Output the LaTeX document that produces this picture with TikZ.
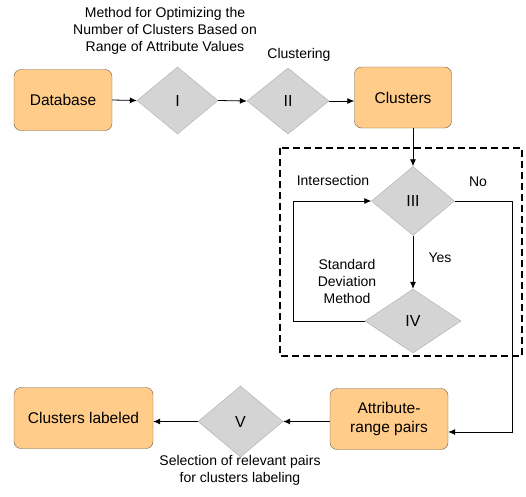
\documentclass[tikz,border=0pt]{standalone}
\usepackage{fontspec}
\setmainfont{Liberation Sans}
\usetikzlibrary{arrows.meta,shapes.geometric}
\definecolor{boxfill}{HTML}{FFCC8A}
\definecolor{boxline}{HTML}{6F5A42}
\definecolor{stepfill}{HTML}{D4D4D4}
\definecolor{stepline}{HTML}{ADADAD}
\newlength{\BoxHeight}
\setlength{\BoxHeight}{61pt}
\tikzset{
  data box/.style={draw=boxline, fill=boxfill, rounded corners=7pt, rectangle, minimum height=\BoxHeight, inner sep=2pt, align=center, font=\fontsize{15.5}{18.5}\selectfont},
  step node/.style={draw=stepline, fill=stepfill, diamond, inner sep=0pt, font=\fontsize{16}{18}\selectfont},
  note text/.style={draw=none, align=center, font=\fontsize{14}{17}\selectfont},
  flow/.style={draw, line width=0.8pt, -{Latex[length=7pt,width=6pt]}},
  group box/.style={draw, line width=1.2pt, dash pattern=on 7pt off 4pt}
}

\begin{document}
\begin{tikzpicture}[x=1pt, y=-1pt]
  \useasboundingbox (0,0) rectangle (526,496);

  % top row
  \node[data box, minimum width=98pt] (db) at (63,100) {Database};
  \node[step node, minimum width=81pt, minimum height=67pt] (s1) at (177.5,100.5) {I};
  \node[step node, minimum width=82pt, minimum height=66pt] (s2) at (288,101) {II};
  \node[data box, minimum width=97pt] (cl) at (403,97.5) {Clusters};

  \node[note text] (labmethod) at (165,31) {Method for Optimizing the\\Number of Clusters Based on\\Range of Attribute Values};
  \node[note text] (labclust) at (299,55) {Clustering};

  % dashed group
  \draw[group box] (280,148) rectangle (522,356);
  \node[step node, minimum width=83pt, minimum height=69pt] (s3) at (413,201) {III};
  \node[step node, minimum width=96pt, minimum height=64pt] (s4) at (413,321) {IV};

  \node[note text] (labinter) at (333,180) {Intersection};
  \node[note text] (labno) at (478,182) {No};
  \node[note text] (labyes) at (440,258) {Yes};
  \node[note text] (labsd) at (347,281) {Standard\\Deviation\\Method};

  % bottom row
  \node[data box, minimum width=118pt] (arp) at (389,419) {Attribute-\\range pairs};
  \node[step node, minimum width=85pt, minimum height=71pt] (s5) at (240.5,421.5) {V};
  \node[data box, minimum width=139pt] (lab) at (83.5,418) {Clusters labeled};

  \node[note text] (labsel) at (240,470) {Selection of relevant pairs\\for clusters labeling};

  \coordinate (loopc) at (293,321);
  \coordinate (noc) at (512,201);

  \draw[flow] (db.east) -- (s1.west);
  \draw[flow] (s1.east) -- (s2.west);
  \draw[flow] (s2.east) -- (cl.west |- s2.east);
  \draw[flow] (cl.south -| s3.north) -- (s3.north);
  \draw[flow] (s3.south) -- (s4.north);
  \draw[flow] (s4.west) -- (loopc) |- (s3.west);
  \draw[flow] (s3.east) -- (noc) |- ([yshift=-13pt]arp.east);
  \draw[flow] (s5.east -| arp.west) -- (s5.east);
  \draw[flow] (s5.west) -- (s5.west -| lab.east);
\end{tikzpicture}
\end{document}
